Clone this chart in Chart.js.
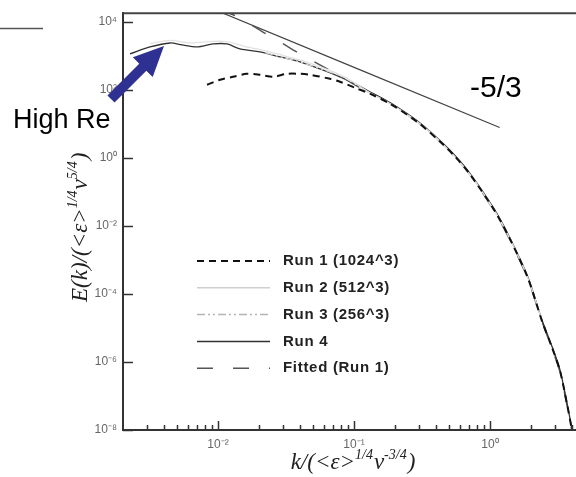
<!DOCTYPE html>
<html>
<head>
<meta charset="utf-8">
<script src="https://cdn.jsdelivr.net/npm/chart.js@4.4.1/dist/chart.umd.min.js"></script>
<style>
  body { margin: 0; background: #fff; overflow: hidden; }
  #wrap { width: 576px; height: 477px; }
</style>
</head>
<body>
<div id="wrap"><canvas id="spectrum" width="576" height="477"></canvas></div>
<script>
// Spectra (k, E(k)), normalised units
const run1K = [0.0083, 0.01035, 0.0129, 0.0163, 0.0204, 0.0254, 0.0321, 0.0401, 0.0475, 0.0667, 0.0789, 0.1017, 0.131, 0.184, 0.290, 0.429, 0.553, 0.713, 1.088, 1.403, 1.90, 2.41, 2.86, 3.27, 3.68, 4.01, 4.15];
const run1E = [143, 200, 245, 300, 281, 245, 300, 300, 281, 214, 175, 117, 78, 39.7, 11.8, 3.07, 1.12, 0.332, 0.0274, 0.00416, 3.0e-4, 1.66e-5, 2.69e-6, 5.7e-7, 6.2e-8, 1.0e-8, 4e-9];

const run2K = [0.00316, 0.00444, 0.00622, 0.00919, 0.01164, 0.0158, 0.0222, 0.0311, 0.0436, 0.0612, 0.0859, 0.131, 0.184, 0.290, 0.429, 0.713, 1.088, 1.403, 1.90, 2.41];
const run2E = [2300, 2900, 2450, 2700, 2650, 1900, 1450, 1000, 690, 430, 240, 83, 40, 12, 3.1, 0.33, 0.027, 0.0042, 3.0e-4, 1.7e-5];

const run3K = [0.0222, 0.0311, 0.0436, 0.0612, 0.0859, 0.131, 0.184, 0.290, 0.429, 0.713, 1.088, 1.403];
const run3E = [1250, 880, 600, 380, 225, 81, 40, 11.6, 3.0, 0.32, 0.0265, 0.0041];

const run4K = [0.00225, 0.00316, 0.00444, 0.00543, 0.00701, 0.00919, 0.01164, 0.01452, 0.0204, 0.0286, 0.0401, 0.0562, 0.0789, 0.1017, 0.131, 0.184, 0.290, 0.429, 0.553, 0.713, 1.088, 1.403, 1.90, 2.41, 2.86, 3.27, 3.68, 4.01, 4.15];
const run4E = [1153, 1850, 2420, 2117, 1850, 2265, 2265, 1618, 1321, 944, 674, 420, 245, 153, 89, 42.5, 12.6, 3.28, 1.19, 0.355, 0.0294, 0.00446, 3.2e-4, 1.78e-5, 2.9e-6, 6.1e-7, 6.6e-8, 1.07e-8, 4.5e-9];

const fitK = [0.01035, 0.01452, 0.0214, 0.0286, 0.0401, 0.0562, 0.0789, 0.1017, 0.131, 0.184, 0.290, 0.429, 0.553, 0.713, 1.088, 1.403, 1.90, 2.41, 2.86, 3.27, 3.68, 4.01, 4.15];
const fitE = [23900, 13060, 5080, 2590, 1153, 550, 262, 143, 83, 41, 12, 3.1, 1.1, 0.33, 0.026, 0.0039, 2.8e-4, 1.6e-5, 2.5e-6, 5.3e-7, 5.8e-8, 9.3e-9, 4e-9];

// -5/3 reference line
const slopeK = [0.0109, 1.18];
const slopeE = [18200, 7.9];

const seriesNames = ["Run 1 (1024^3)", "Run 2 (512^3)", "Run 3 (256^3)", "Run 4", "Fitted (Run 1)"];

const xMin = 0.002, xMax = 4.3;
const yMin = 1e-8, yMax = 18200;
const xTicks = [0.01, 0.1, 1];
const yTicks = [1e-8, 1e-6, 1e-4, 1e-2, 1, 1e2, 1e4];

const xTitle = [["k/(<ε>", 0], ["1/4", 1], ["ν", 0], ["-3/4", 1], [")", 0]];
const yTitle = [["E(k)/(<ε>", 0], ["1/4", 1], ["ν", 0], ["5/4", 1], [")", 0]];
const slopeLabel = "-5/3";
const arrowLabel = "High Re";

const sup = { "0": "⁰", "1": "¹", "2": "²", "3": "³", "4": "⁴", "5": "⁵", "6": "⁶", "7": "⁷", "8": "⁸", "9": "⁹", "-": "⁻" };
function powLabel(v) {
    let e = String(Math.round(Math.log10(v)));
    return "10" + e.split("").map(c => sup[c]).join("");
}

function pts(ks, es) {
    return ks.map((k, i) => ({ x: k, y: es[i] }));
}

// inward tick marks, frame, legend, titles and notes
const decorations = {
    id: "decorations",
    afterDatasetsDraw(chart) {
        let ctx = chart.ctx;
        let a = chart.chartArea;
        let xs = chart.scales.x, ys = chart.scales.y;
        ctx.save();

        // top frame line
        ctx.strokeStyle = "#444";
        ctx.lineWidth = 2;
        ctx.beginPath();
        ctx.moveTo(a.left, a.top);
        ctx.lineTo(a.right, a.top);
        ctx.stroke();

        // ticks
        ctx.lineWidth = 1.5;
        ctx.strokeStyle = "#333";
        for (let e = -3; e <= 0; e++) {
            for (let m = 1; m <= 9; m++) {
                let v = m * Math.pow(10, e);
                if (v <= xMin || v >= xMax) continue;
                let px = Math.round(xs.getPixelForValue(v)) + 0.5;
                let len = m === 1 ? 9 : 5;
                ctx.beginPath();
                ctx.moveTo(px, a.bottom);
                ctx.lineTo(px, a.bottom - len);
                ctx.stroke();
            }
        }
        yTicks.forEach(v => {
            let py = Math.round(ys.getPixelForValue(v)) + 0.5;
            ctx.beginPath();
            ctx.moveTo(a.left, py);
            ctx.lineTo(a.left + 10, py);
            ctx.stroke();
        });

        // legend
        let rowY = 261;
        chart.data.datasets.slice(0, 5).forEach((ds, i) => {
            let y = rowY + i * 26.8;
            ctx.strokeStyle = ds.legendColor || ds.borderColor;
            ctx.lineWidth = Math.max(1.5, ds.borderWidth);
            ctx.setLineDash(ds.borderDash || []);
            ctx.beginPath();
            ctx.moveTo(197, y);
            ctx.lineTo(270, y);
            ctx.stroke();
            ctx.setLineDash([]);
            ctx.fillStyle = "#222";
            ctx.font = "bold 15px 'Liberation Sans', Arial, sans-serif";
            ctx.letterSpacing = "0.7px";
            ctx.textBaseline = "middle";
            ctx.textAlign = "left";
            ctx.fillText(ds.label, 283, y);
            ctx.letterSpacing = "0px";
        });

        // x title
        drawRich(ctx, xTitle, 353, 469, false);
        // y title, rotated
        ctx.save();
        ctx.translate(87, 302);
        ctx.rotate(-Math.PI / 2);
        drawRich(ctx, yTitle, 0, 0, true);
        ctx.restore();

        // notes
        ctx.fillStyle = "#000";
        ctx.textAlign = "left";
        ctx.textBaseline = "alphabetic";
        ctx.font = "30px 'Liberation Sans', Arial, sans-serif";
        ctx.fillText(slopeLabel, 470, 97);
        ctx.font = "27px 'Liberation Sans', Arial, sans-serif";
        ctx.fillText(arrowLabel, 13, 128);

        // stray rule at the top left
        ctx.strokeStyle = "#555";
        ctx.lineWidth = 1.5;
        ctx.beginPath();
        ctx.moveTo(0, 28.5);
        ctx.lineTo(43, 28.5);
        ctx.stroke();

        // arrow
        drawArrow(ctx, 111, 99, 164, 46);
        ctx.restore();
    }
};

function drawRich(ctx, parts, x, y, fromStart) {
    let big = "italic 23px 'Liberation Serif', 'Times New Roman', serif";
    let small = "italic 14px 'Liberation Serif', 'Times New Roman', serif";
    let total = 0;
    parts.forEach(p => {
        ctx.font = p[1] ? small : big;
        total += ctx.measureText(p[0]).width + (p[1] ? 1 : 0);
    });
    let cx = fromStart ? x : x - total / 2;
    ctx.fillStyle = "#222";
    ctx.textAlign = "left";
    ctx.textBaseline = "alphabetic";
    parts.forEach(p => {
        ctx.font = p[1] ? small : big;
        ctx.fillText(p[0], cx, p[1] ? y - 10 : y);
        cx += ctx.measureText(p[0]).width + (p[1] ? 1 : 0);
    });
}

function drawArrow(ctx, x1, y1, x2, y2) {
    let dx = x2 - x1, dy = y2 - y1;
    let len = Math.hypot(dx, dy);
    let ux = dx / len, uy = dy / len;
    let nx = -uy, ny = ux;
    let head = 30, hw = 14, sw = 5;
    let bx = x2 - ux * head, by = y2 - uy * head;
    ctx.fillStyle = "#2e3192";
    ctx.beginPath();
    ctx.moveTo(x1 + nx * sw, y1 + ny * sw);
    ctx.lineTo(bx + nx * sw, by + ny * sw);
    ctx.lineTo(bx + nx * hw, by + ny * hw);
    ctx.lineTo(x2, y2);
    ctx.lineTo(bx - nx * hw, by - ny * hw);
    ctx.lineTo(bx - nx * sw, by - ny * sw);
    ctx.lineTo(x1 - nx * sw, y1 - ny * sw);
    ctx.closePath();
    ctx.fill();
}

let ctx = document.getElementById("spectrum").getContext("2d");
new Chart(ctx, {
    type: "line",
    data: {
        datasets: [
            { label: seriesNames[0], data: pts(run1K, run1E), borderColor: "#111", borderWidth: 2, borderDash: [7, 5] },
            { label: seriesNames[1], data: pts(run2K, run2E), borderColor: "#e2e2e2", legendColor: "#cfcfcf", borderWidth: 1.3 },
            { label: seriesNames[2], data: pts(run3K, run3E), borderColor: "#d4d4d4", legendColor: "#b5b5b5", borderWidth: 1.3, borderDash: [8, 3, 2, 3, 2, 3] },
            { label: seriesNames[3], data: pts(run4K, run4E), borderColor: "#333", borderWidth: 1.3 },
            { label: seriesNames[4], data: pts(fitK, fitE), borderColor: "#555", borderWidth: 1.5, borderDash: [16, 20] },
            { label: "slope", data: pts(slopeK, slopeE), borderColor: "#444", borderWidth: 1.2 }
        ]
    },
    options: {
        responsive: false,
        animation: false,
        layout: { padding: { top: 11, left: 0, right: 0, bottom: 0 } },
        elements: {
            point: { radius: 0 },
            line: { tension: 0.3, fill: false }
        },
        datasets: { line: { clip: 0 } },
        plugins: {
            legend: { display: false },
            tooltip: { enabled: false }
        },
        scales: {
            x: {
                type: "logarithmic",
                min: xMin,
                max: xMax,
                afterBuildTicks: (scale) => { scale.ticks = xTicks.map(v => ({ value: v })); },
                afterFit: (scale) => { scale.height = 47; },
                grid: { display: false, drawTicks: false },
                border: { display: true, color: "#333", width: 2 },
                ticks: {
                    autoSkip: false,
                    maxRotation: 0,
                    padding: 7,
                    color: "#666",
                    font: { family: "'Liberation Sans', Arial, sans-serif", size: 12 },
                    callback: (v) => powLabel(v)
                }
            },
            y: {
                type: "logarithmic",
                min: yMin,
                max: yMax,
                afterBuildTicks: (scale) => { scale.ticks = yTicks.map(v => ({ value: v })); },
                afterFit: (scale) => { scale.width = 123; },
                grid: { display: false, drawTicks: false },
                border: { display: true, color: "#333", width: 2 },
                ticks: {
                    autoSkip: false,
                    padding: 6,
                    color: "#666",
                    font: { family: "'Liberation Sans', Arial, sans-serif", size: 12 },
                    callback: (v) => powLabel(v)
                }
            }
        }
    },
    plugins: [decorations]
});
</script>
</body>
</html>
